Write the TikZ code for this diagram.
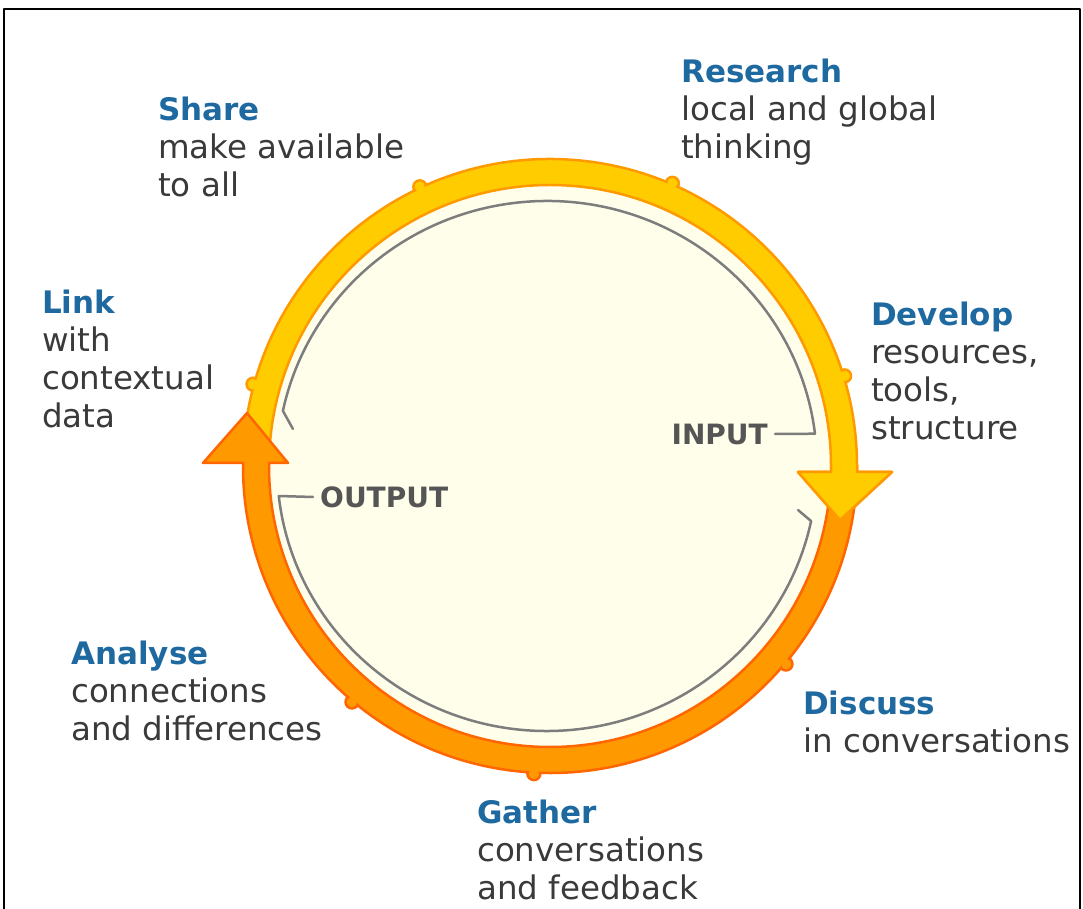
\documentclass[tikz,border=0pt]{standalone}
\usepackage{fontspec}
\setmainfont{DejaVu Sans}
\usetikzlibrary{calc}

\definecolor{ringyellow}{RGB}{255,204,0}
\definecolor{ringyellowline}{RGB}{255,153,0}
\definecolor{ringorange}{RGB}{255,153,0}
\definecolor{ringorangeline}{RGB}{255,102,0}
\definecolor{cream}{RGB}{255,254,235}
\definecolor{titleblue}{RGB}{30,105,160}
\definecolor{steptext}{RGB}{58,58,58}
\definecolor{loopgray}{RGB}{125,125,125}
\definecolor{ioword}{RGB}{85,85,85}

\tikzset{
  steplabel/.style={anchor=north west,align=left,inner sep=0pt,text=steptext,
    font=\fontsize{32.5}{38}\selectfont},
  ioword/.style={inner sep=0pt,text=ioword,font=\bfseries\fontsize{28}{34}\selectfont},
  loopline/.style={draw=loopgray,line width=2.5pt,line cap=round},
  yellowband/.style={fill=ringyellow,draw=ringyellowline,line width=2.5pt},
  orangeband/.style={fill=ringorange,draw=ringorangeline,line width=2.5pt}
}
\newcommand{\stepTitle}[1]{{\color{titleblue}\bfseries\fontsize{31}{38}\selectfont #1}}

\begin{document}
\begin{tikzpicture}[x=1pt,y=1pt,line join=round]
  \useasboundingbox (0,0) rectangle (1083,908);

  % frame
  \draw[line width=2pt] (4,-20) -- (4,899) -- (1080,899) -- (1080,-20);

  %labels
  \node[steplabel] (share) at (158,811) {\stepTitle{Share}\\make available\\to all};
  \node[steplabel] (research) at (681,849) {\stepTitle{Research}\\local and global\\thinking};
  \node[steplabel] (develop) at (871,606) {\stepTitle{Develop}\\resources,\\tools,\\structure};
  \node[steplabel] (link) at (42,618) {\stepTitle{Link}\\with\\contextual\\data};
  \node[steplabel] (analyse) at (71,267) {\stepTitle{Analyse}\\connections\\and differences};
  \node[steplabel] (discuss) at (803,217) {\stepTitle{Discuss}\\in conversations};
  \node[steplabel] (gather) at (477,108) {\stepTitle{Gather}\\conversations\\and feedback};

  \begin{scope}[shift={(550,442)}]
    \fill[cream] (0,0) circle (282pt);

    % bumps on the ring
    \foreach \a in {115,66.6,164.6,17}
      \filldraw[yellowband] (\a:308pt) circle (6.5pt);
    \foreach \a in {-40,-93,-130}
      \filldraw[orangeband] (\a:308pt) circle (6.5pt);

    % input half
    \filldraw[yellowband] (175:307pt) arc[start angle=175,end angle=0,radius=307pt]
      -- (307,-6) -- (342,-6) -- (290,-54) -- (248,-6) -- (281,-6)
      -- (0:281pt) arc[start angle=0,end angle=175,radius=281pt] -- cycle;

    % output half
    \filldraw[orangeband] (-2:307pt) arc[start angle=-2,end angle=-180,radius=307pt]
      -- (-307,3) -- (-347,3) -- (-303,53) -- (-262,3) -- (-281,3)
      -- (-180:281pt) arc[start angle=-180,end angle=-2,radius=281pt] -- cycle;

    % yellow head again, over the start of the orange half
    \fill[ringyellow] (307,1) -- (307,-6) -- (342,-6) -- (290,-54) -- (248,-6) -- (281,-6) -- (281,1) -- cycle;
    \draw[ringyellowline,line width=2.5pt] (307,1) -- (307,-6) -- (342,-6) -- (290,-54) -- (248,-6) -- (281,-6) -- (281,1);

    \foreach \a in {115,66.6,164.6,17}
      \fill[ringyellow] (\a:308pt) circle (5pt);
    \foreach \a in {-40,-93,-130}
      \fill[ringorange] (\a:308pt) circle (5pt);
  \end{scope}

  \node[ioword,anchor=east] (input) at (768,474) {INPUT};
  \node[ioword,anchor=west] (output) at (320,411) {OUTPUT};

  \begin{scope}[shift={(547,442)}]
    \draw[loopline] ([xshift=7pt]input.east) -- (7:270 and 265)
      arc[start angle=7,end angle=168,x radius=270pt,y radius=265pt] -- ++(10,-18);
    \draw[loopline] ([xshift=-7pt]output.west) -- (186.5:270 and 265)
      arc[start angle=186.5,end angle=348,x radius=270pt,y radius=265pt] -- ++(-13,11);
  \end{scope}
\end{tikzpicture}
\end{document}
